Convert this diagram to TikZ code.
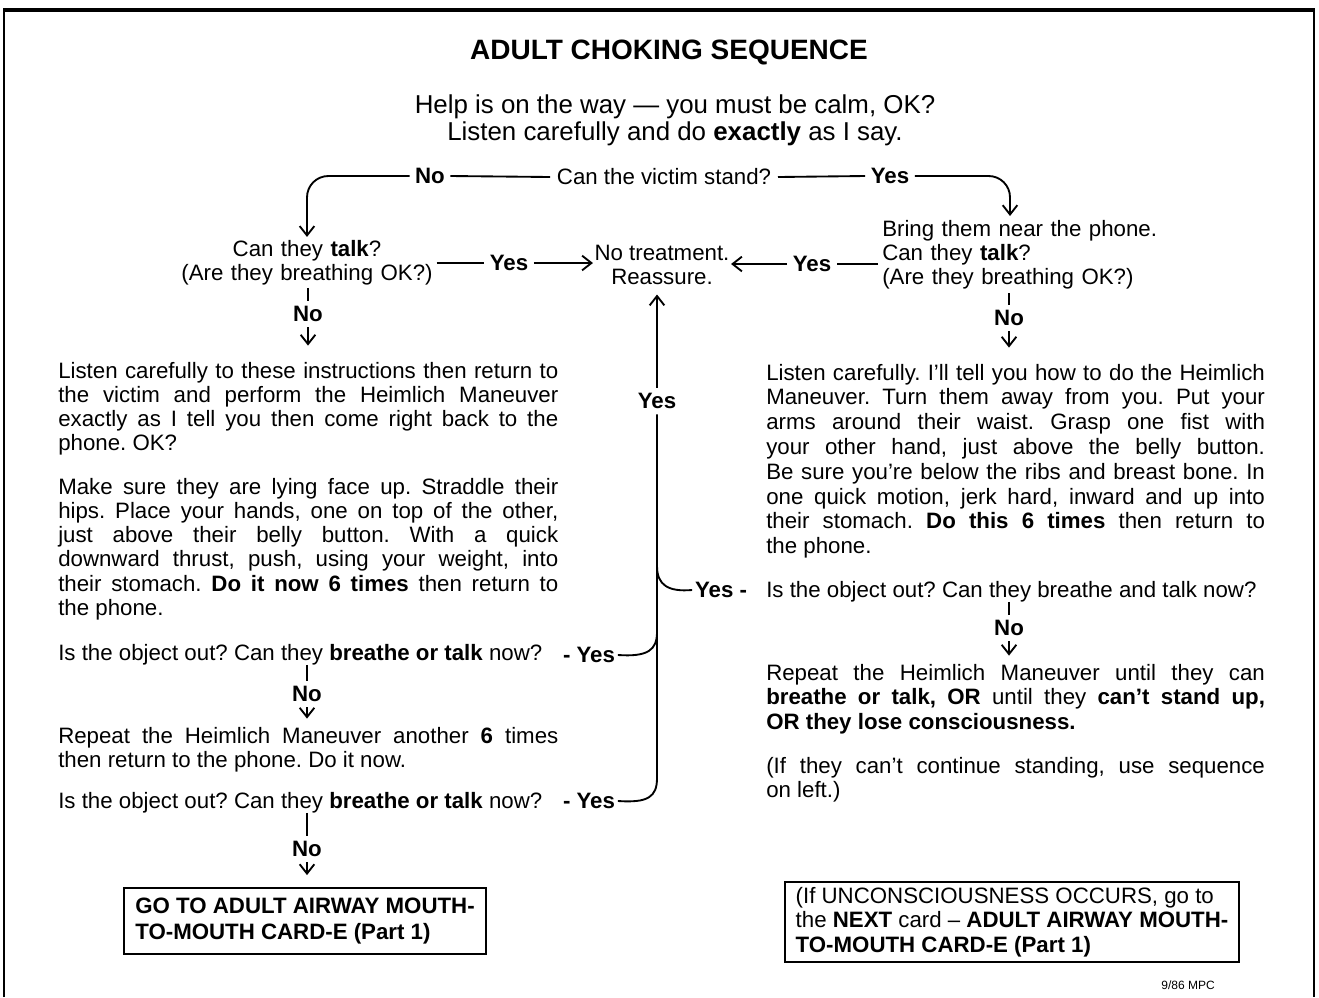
\documentclass[tikz,border=0pt]{standalone}
\usepackage{fontspec}
\setmainfont{Liberation Sans}
\usetikzlibrary{arrows.meta}
\hyphenpenalty=10000
\exhyphenpenalty=10000
\frenchspacing
\begin{document}
\begin{tikzpicture}[x=0.75pt,y=-0.75pt,
  every node/.style={inner sep=0pt},
  bodyf/.style={font=\fontsize{16.7}{18.2}\selectfont},
  lbl/.style={font=\bfseries\fontsize{16.7}{18.2}\selectfont, inner sep=4pt},
  para/.style={font=\fontsize{16.7}{18.2}\selectfont, anchor=base west, text width=375pt, align=justify},
  rpara/.style={font=\fontsize{16.7}{18.6}\selectfont, anchor=base west, text width=374pt, align=justify},
  rpara2/.style={font=\fontsize{16.7}{18.4}\selectfont, anchor=base west, text width=374pt, align=justify},
  ln/.style={line width=1.4pt},
  arr/.style={ln, -{Straight Barb[length=7pt,width=11pt]}},
  cardbox/.style={draw, line width=1.4pt, align=left}
]
\useasboundingbox (0,0) rectangle (1319,997);
% frame
\draw[line width=1.2pt] (4,997) -- (4,11) -- (1314,11) -- (1314,997);
\draw[line width=3pt] (3,10) -- (1315,10);

% title and intro
\node[font=\bfseries\fontsize{21}{24}\selectfont] (title) at (669,52) {ADULT CHOKING SEQUENCE};
\node[font=\fontsize{19.4}{20.3}\selectfont, align=center] (intro) at (675,120)
  {Help is on the way — you must be calm, OK?\\Listen carefully and do \textbf{exactly} as I say.};

% top decision
\node[bodyf, inner sep=5pt] (stand) at (664,177) {Can the victim stand?};
\node[lbl] (noTop) at (430,176) {No};
\node[lbl] (yesTop) at (890,176) {Yes};
\draw[ln] (stand.west) -- (noTop.east);
\draw[ln] (stand.east) -- (yesTop.west);

% left decision
\node[bodyf, text width=190pt, align=center, anchor=base, inner sep=2pt] (talkL) at (307,256)
  {Can they \textbf{talk}?\\(Are they breathing OK?)};
\draw[arr, rounded corners=16pt] (noTop.west) -| (talkL.north);

% no treatment
\node[bodyf, align=center, inner sep=1pt] (reassure) at (662,265) {No treatment.\\Reassure.};
\node[lbl] (yesL) at (509,263) {Yes};
\draw[ln] (yesL.west -| talkL.east) -- (yesL.west);
\draw[arr] (yesL.east) -- (yesL.east -| reassure.west);

% right decision
\node[bodyf, text width=215pt, align=left, anchor=base west, inner sep=3pt] (rt) at (878,236)
  {Bring them near the phone.\\Can they \textbf{talk}?\\(Are they breathing OK?)};
\coordinate (rtTip) at (1010,216);
\draw[arr, rounded corners=16pt] (yesTop.east) -| (rtTip);
\node[lbl] (yesR) at (812,264) {Yes};
\draw[ln] (rt.west |- yesR.east) -- (yesR.east);
\draw[arr] (yesR.west) -- (yesR.west -| reassure.east);

% left column
\node[lbl] (noL1) at (308,314) {No};
\draw[ln] (noL1.north |- talkL.south) -- (noL1.north);
\node[para] (lp1) at (58,378)
  {Listen carefully to these instructions then return to\linebreak
   the victim and perform the Heimlich Maneuver\linebreak
   exactly as I tell you then come right back to the\linebreak
   phone. OK?};
\draw[arr, shorten >=12pt] (noL1.south) -- (noL1.south |- lp1.north);
\node[para] (lp2) at (58,494)
  {Make sure they are lying face up. Straddle their\linebreak
   hips. Place your hands, one on top of the other,\linebreak
   just above their belly button. With a quick\linebreak
   downward thrust, push, using your weight, into\linebreak
   their stomach. \textbf{Do it now 6 times} then return to\linebreak
   the phone.};
\node[bodyf, anchor=base west] (q1) at (58,660) {Is the object out? Can they \textbf{breathe or talk} now?};
\node[lbl, inner sep=2pt] (yesL2) at (589,655) {- Yes};
\node[lbl] (noL2) at (307,694) {No};
\draw[ln] (noL2.north |- q1.south) -- (noL2.north);
\node[para] (rep) at (58,743)
  {Repeat the Heimlich Maneuver another \textbf{6} times\linebreak
   then return to the phone. Do it now.};
\draw[arr, shorten >=6pt] (noL2.south) -- (noL2.south |- rep.north);
\node[bodyf, anchor=base west] (q2) at (58,808) {Is the object out? Can they \textbf{breathe or talk} now?};
\node[lbl, inner sep=2pt] (yesL3) at (589,801) {- Yes};
\node[lbl] (noL3) at (307,849) {No};
\draw[ln] (noL3.north |- q2.south) -- (noL3.north);
\node[cardbox, font=\bfseries\fontsize{16.7}{19.5}\selectfont, minimum width=271.5pt, minimum height=49.5pt] (boxL) at (305,921)
  {GO TO ADULT AIRWAY MOUTH-\\TO-MOUTH CARD-E (Part 1)};
\draw[arr, shorten >=9pt] (noL3.south) -- (noL3.south |- boxL.north);

% central return line
\node[lbl] (yesMid) at (657,401) {Yes};
\draw[arr, shorten >=6pt] (yesMid.north) -- (yesMid.north |- reassure.south);
\draw[ln] (yesL3.east) .. controls (648,803) and (657,797) .. (657,778) -- (yesMid.south);
\draw[ln] (yesL2.east) .. controls (648,657) and (657,650) .. (657,632);

% right column
\node[lbl] (noR1) at (1009,318) {No};
\draw[ln] (noR1.north |- rt.south) -- (noR1.north);
\node[rpara] (rp) at (766,380)
  {Listen carefully. I'll tell you how to do the Heimlich\linebreak
   Maneuver. Turn them away from you. Put your\linebreak
   arms around their waist. Grasp one fist with\linebreak
   your other hand, just above the belly button.\linebreak
   Be sure you're below the ribs and breast bone. In\linebreak
   one quick motion, jerk hard, inward and up into\linebreak
   their stomach. \textbf{Do this 6 times} then return to\linebreak
   the phone.};
\draw[arr, shorten >=12pt] (noR1.south) -- (noR1.south |- rp.north);
\node[bodyf, anchor=base west] (rq) at (766,597) {Is the object out? Can they breathe and talk now?};
\node[lbl, inner sep=2pt] (yesR2) at (721,590) {Yes -};
\draw[ln] (yesR2.west) .. controls (668,592) and (657,585) .. (657,566);
\node[lbl] (noR2) at (1009,628) {No};
\draw[ln] (noR2.north |- rq.south) -- (noR2.north);
\node[rpara2] (rrep) at (766,680)
  {Repeat the Heimlich Maneuver until they can\linebreak
   \textbf{breathe or talk, OR} until they \textbf{can't stand up,}\linebreak
   \textbf{OR they lose consciousness.}};
\draw[arr, shorten >=6pt] (noR2.south) -- (noR2.south |- rrep.north);
\node[rpara] (rnote) at (766,773)
  {(If they can't continue standing, use sequence\linebreak on left.)};
\node[cardbox, font=\fontsize{16.7}{18.4}\selectfont, minimum width=341pt, minimum height=60pt] (boxR) at (1012,922)
  {(If UNCONSCIOUSNESS OCCURS, go to\\the \textbf{NEXT} card – \textbf{ADULT AIRWAY MOUTH-}\\\textbf{TO-MOUTH CARD-E (Part 1)}};
\node[font=\fontsize{9}{10}\selectfont] (date) at (1188,985) {9/86 MPC};
\end{tikzpicture}
\end{document}
